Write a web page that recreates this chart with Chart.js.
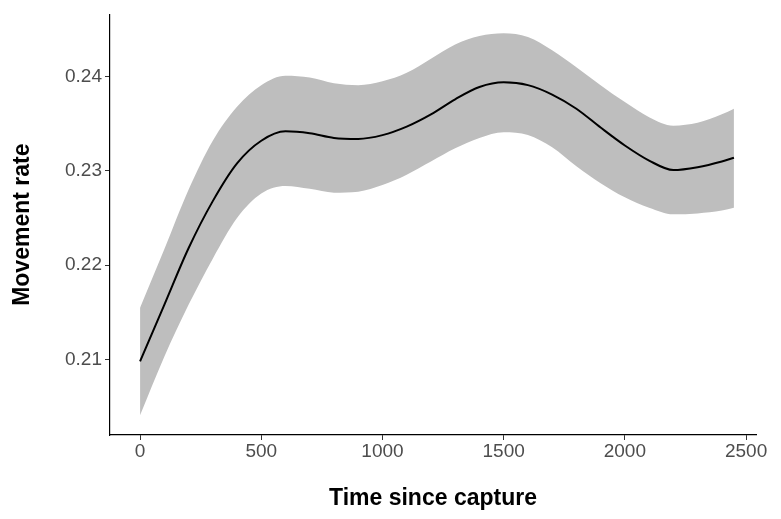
<!DOCTYPE html>
<html>
<head>
<meta charset="utf-8">
<script src="https://cdn.jsdelivr.net/npm/chart.js@4"></script>
<style>
  html, body { margin: 0; padding: 0; background: #fff; }
  #c { display: block; }
</style>
</head>
<body>
<canvas id="c" width="781" height="519"></canvas>
<script>
// Smoothed movement rate vs time since capture, with confidence band
const times = [0, 100, 200, 300, 400, 500, 600, 700, 800, 900, 1000, 1100, 1200,
               1300, 1400, 1500, 1600, 1700, 1800, 1900, 2000, 2100, 2200, 2300, 2400, 2450];
const meanRate = [0.2098, 0.2158, 0.2218, 0.2268, 0.2308, 0.2332, 0.2342, 0.2340, 0.2335,
                  0.2334, 0.2338, 0.2347, 0.2360, 0.2376, 0.2389, 0.2394, 0.2391, 0.2381,
                  0.2366, 0.2346, 0.2327, 0.2311, 0.2301, 0.2304, 0.2310, 0.2314];
const upperRate = [0.2155, 0.2217, 0.2280, 0.2332, 0.2368, 0.2391, 0.2401, 0.2399, 0.2393,
                   0.2391, 0.2395, 0.2404, 0.2419, 0.2434, 0.2443, 0.2446, 0.2442, 0.2428,
                   0.2410, 0.2391, 0.2373, 0.2357, 0.2348, 0.2351, 0.2360, 0.2366];
const lowerRate = [0.2041, 0.2103, 0.2158, 0.2207, 0.2250, 0.2276, 0.2284, 0.2281, 0.2277,
                   0.2278, 0.2285, 0.2296, 0.2310, 0.2324, 0.2335, 0.2341, 0.2338, 0.2325,
                   0.2305, 0.2287, 0.2272, 0.2261, 0.2254, 0.2255, 0.2258, 0.2261];
const xTicks = [0, 500, 1000, 1500, 2000, 2500];
const yTicks = [0.21, 0.22, 0.23, 0.24];

const pts = arr => times.map((t, i) => ({ x: t, y: arr[i] }));

const tickFont = { family: 'Liberation Sans, Arial, sans-serif', size: 19 };
const titleFont = { family: 'Liberation Sans, Arial, sans-serif', size: 23, weight: 'bold' };

new Chart(document.getElementById('c'), {
    type: 'line',
    data: {
        datasets: [
            {
                data: pts(lowerRate),
                borderWidth: 0,
                pointRadius: 0,
                fill: false,
                cubicInterpolationMode: 'monotone',
                order: 2
            },
            {
                data: pts(upperRate),
                borderWidth: 0,
                pointRadius: 0,
                backgroundColor: '#bebebe',
                fill: '-1',
                cubicInterpolationMode: 'monotone',
                order: 1
            },
            {
                data: pts(meanRate),
                borderColor: '#000000',
                borderWidth: 2,
                pointRadius: 0,
                fill: false,
                cubicInterpolationMode: 'monotone',
                order: 0
            }
        ]
    },
    options: {
        responsive: false,
        animation: false,
        layout: { padding: { left: 0, right: 25, top: 11, bottom: 0 } },
        plugins: { legend: { display: false }, tooltip: { enabled: false } },
        scales: {
            x: {
                type: 'linear',
                min: -124,
                max: 2541,
                afterFit: s => { s.height = 84; },
                afterBuildTicks: s => { s.ticks = xTicks.map(v => ({ value: v })); },
                border: { display: true, color: '#000000', width: 1.2 },
                grid: { display: true, drawOnChartArea: false, drawTicks: true, tickLength: 5, color: '#333333' },
                ticks: { color: '#4d4d4d', font: tickFont, padding: 0, maxRotation: 0,
                         callback: v => String(v) },
                title: { display: true, text: 'Time since capture', color: '#000000', font: titleFont,
                         padding: { top: 0, bottom: 7 } }
            },
            y: {
                type: 'linear',
                min: 0.2020,
                max: 0.2466,
                afterFit: s => { s.width = 110; },
                afterBuildTicks: s => { s.ticks = yTicks.map(v => ({ value: v })); },
                border: { display: true, color: '#000000', width: 1.2 },
                grid: { display: true, drawOnChartArea: false, drawTicks: true, tickLength: 5, color: '#333333' },
                ticks: { color: '#4d4d4d', font: tickFont, padding: 3,
                         callback: v => v.toFixed(2) },
                title: { display: true, text: 'Movement rate', color: '#000000', font: titleFont,
                         padding: { top: 9, bottom: 0 } }
            }
        }
    }
});
</script>
</body>
</html>
